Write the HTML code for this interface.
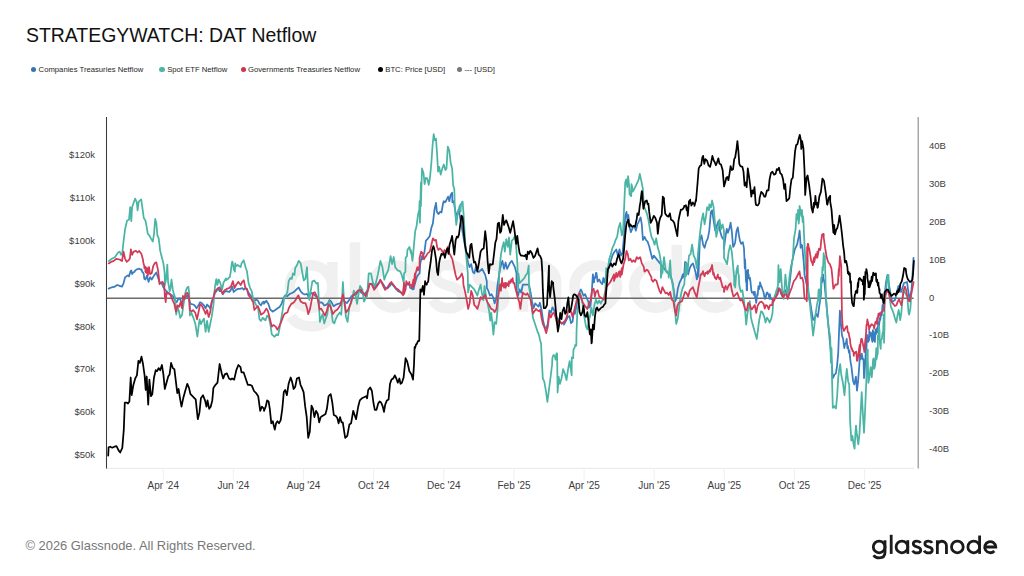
<!DOCTYPE html>
<html><head><meta charset="utf-8">
<style>
html,body{margin:0;padding:0;background:#fff;}
body{width:1024px;height:576px;overflow:hidden;position:relative;font-family:"Liberation Sans",sans-serif;}
.t{position:absolute;white-space:nowrap;}
#title{left:26.4px;top:23px;font-size:20.6px;color:#111;transform-origin:0 0;transform:scaleX(0.943);}
.lg{position:absolute;top:65px;font-size:7.7px;color:#262626;white-space:nowrap;line-height:10px;}
.dot{position:absolute;top:66.8px;width:5.4px;height:5.4px;border-radius:50%;}
.yl{position:absolute;font-size:9.5px;color:#3d3d3d;white-space:nowrap;line-height:12px;}
.xl{position:absolute;font-size:10px;color:#3d3d3d;white-space:nowrap;line-height:12px;}
#foot{left:25.5px;top:538.3px;font-size:12.9px;color:#777;}
</style></head><body>
<div id="title" class="t">STRATEGYWATCH: DAT Netflow</div>
<div class="dot" style="left:30.7px;background:#3374b3"></div><div class="lg" style="left:38.6px">Companies Treasuries Netflow</div>
<div class="dot" style="left:159.4px;background:#4db5a5"></div><div class="lg" style="left:167.2px">Spot ETF Netflow</div>
<div class="dot" style="left:240.9px;background:#c9354f"></div><div class="lg" style="left:248px">Governments Treasuries Netflow</div>
<div class="dot" style="left:377.5px;background:#000"></div><div class="lg" style="left:385.3px">BTC: Price [USD]</div>
<div class="dot" style="left:457px;background:#777"></div><div class="lg" style="left:464.5px">--- [USD]</div>
<div class="yl" style="right:929px;top:149.0px">$120k</div>
<div class="yl" style="right:929px;top:191.9px">$110k</div>
<div class="yl" style="right:929px;top:234.8px">$100k</div>
<div class="yl" style="right:929px;top:277.6px">$90k</div>
<div class="yl" style="right:929px;top:320.5px">$80k</div>
<div class="yl" style="right:929px;top:363.4px">$70k</div>
<div class="yl" style="right:929px;top:406.2px">$60k</div>
<div class="yl" style="right:929px;top:449.1px">$50k</div>
<div class="yl" style="left:929px;top:140.2px">40B</div>
<div class="yl" style="left:929px;top:178.0px">30B</div>
<div class="yl" style="left:929px;top:215.8px">20B</div>
<div class="yl" style="left:929px;top:253.7px">10B</div>
<div class="yl" style="left:929px;top:291.5px">0</div>
<div class="yl" style="left:929px;top:329.3px">-10B</div>
<div class="yl" style="left:929px;top:367.2px">-20B</div>
<div class="yl" style="left:929px;top:405.0px">-30B</div>
<div class="yl" style="left:929px;top:442.9px">-40B</div>
<div class="xl" style="left:123.3px;width:80px;text-align:center;top:479.8px">Apr '24</div>
<div class="xl" style="left:193.4px;width:80px;text-align:center;top:479.8px">Jun '24</div>
<div class="xl" style="left:263.6px;width:80px;text-align:center;top:479.8px">Aug '24</div>
<div class="xl" style="left:333.7px;width:80px;text-align:center;top:479.8px">Oct '24</div>
<div class="xl" style="left:403.8px;width:80px;text-align:center;top:479.8px">Dec '24</div>
<div class="xl" style="left:474.0px;width:80px;text-align:center;top:479.8px">Feb '25</div>
<div class="xl" style="left:544.1px;width:80px;text-align:center;top:479.8px">Apr '25</div>
<div class="xl" style="left:614.2px;width:80px;text-align:center;top:479.8px">Jun '25</div>
<div class="xl" style="left:684.3px;width:80px;text-align:center;top:479.8px">Aug '25</div>
<div class="xl" style="left:754.5px;width:80px;text-align:center;top:479.8px">Oct '25</div>
<div class="xl" style="left:824.6px;width:80px;text-align:center;top:479.8px">Dec '25</div>

<svg width="1024" height="576" style="position:absolute;left:0;top:0">
<g fill="none" stroke="#f0f0f0" stroke-width="2.9" transform="translate(-2889,-1704.4) scale(3.64)"><circle cx="879.15" cy="546.95" r="5.85"/><path d="M885,540.2 V552.3 Q885,557.9 879.2,557.9 Q875.3,557.9 873.6,555.2"/><path d="M891.2,534.8 V553.9"/><circle cx="901.95" cy="546.95" r="5.85"/><path d="M907.8,540.2 V553.9"/><path d="M920.6,542.9 C919.9,541.6 918.6,541.05 916.9,541.05 C914.6,541.05 913.3,542.2 913.3,543.7 C913.3,545.6 915.2,546.3 917,546.8 C919.1,547.3 920.7,548.1 920.7,550.2 C920.7,551.9 919.2,552.95 916.8,552.95 C914.8,552.95 913.4,552.1 912.6,550.6"/><path transform="translate(11.55,0)" d="M920.6,542.9 C919.9,541.6 918.6,541.05 916.9,541.05 C914.6,541.05 913.3,542.2 913.3,543.7 C913.3,545.6 915.2,546.3 917,546.8 C919.1,547.3 920.7,548.1 920.7,550.2 C920.7,551.9 919.2,552.95 916.8,552.95 C914.8,552.95 913.4,552.1 912.6,550.6"/><path d="M937.35,540.2 V553.9 M937.35,553.9 V545.8 A4.55,4.55 0 0 1 946.45,545.8 V553.9"/><circle cx="957.35" cy="546.95" r="5.85"/><circle cx="973.75" cy="546.95" r="5.85"/><path d="M979.6,535.5 V553.9"/><path d="M984.5,547 H995.8 A5.55,5.55 0 1 0 994.3,551"/></g>
<line x1="106" y1="468.3" x2="914" y2="468.3" stroke="#e8e8e8" stroke-width="1"/>
<line x1="163.3" y1="468" x2="163.3" y2="479.5" stroke="#f0f0f0" stroke-width="1"/><line x1="233.4" y1="468" x2="233.4" y2="479.5" stroke="#f0f0f0" stroke-width="1"/><line x1="303.6" y1="468" x2="303.6" y2="479.5" stroke="#f0f0f0" stroke-width="1"/><line x1="373.7" y1="468" x2="373.7" y2="479.5" stroke="#f0f0f0" stroke-width="1"/><line x1="443.8" y1="468" x2="443.8" y2="479.5" stroke="#f0f0f0" stroke-width="1"/><line x1="514.0" y1="468" x2="514.0" y2="479.5" stroke="#f0f0f0" stroke-width="1"/><line x1="584.1" y1="468" x2="584.1" y2="479.5" stroke="#f0f0f0" stroke-width="1"/><line x1="654.2" y1="468" x2="654.2" y2="479.5" stroke="#f0f0f0" stroke-width="1"/><line x1="724.3" y1="468" x2="724.3" y2="479.5" stroke="#f0f0f0" stroke-width="1"/><line x1="794.5" y1="468" x2="794.5" y2="479.5" stroke="#f0f0f0" stroke-width="1"/><line x1="864.6" y1="468" x2="864.6" y2="479.5" stroke="#f0f0f0" stroke-width="1"/>
<line x1="106.5" y1="298.3" x2="913.6" y2="298.3" stroke="#6a6a6a" stroke-width="1.4"/>
<g fill="none" stroke-width="1.75" stroke-linejoin="round" stroke-linecap="round">
<polyline stroke="#3a7cc0" points="108.7,288.6 111.8,287.3 114.9,286.6 117.3,285.0 119.6,285.8 122.0,286.6 123.5,283.4 125.1,277.2 125.9,276.7 127.4,275.6 129.0,275.2 129.0,276.4 130.6,270.9 131.3,270.5 132.1,274.1 132.9,272.8 134.5,271.7 135.2,270.5 136.8,269.4 138.4,268.9 139.2,268.6 140.7,269.7 141.5,269.4 142.3,272.0 143.1,272.5 143.8,274.4 144.3,278.8 145.4,279.5 147.0,275.6 148.5,281.9 150.1,277.2 151.7,279.5 154.0,275.6 156.3,272.5 157.9,277.2 159.5,281.9 161.8,283.4 163.4,287.3 164.9,289.7 166.5,291.2 168.1,292.8 169.6,293.6 172.8,295.9 175.1,300.6 176.7,302.2 178.2,299.1 179.8,298.3 181.3,302.2 182.9,303.8 184.5,299.1 186.0,296.7 187.6,295.2 189.2,300.6 190.7,303.8 193.1,304.5 194.6,305.3 196.5,308.4 198.5,305.3 200.1,302.2 201.7,303.0 204.0,305.3 205.6,308.4 207.1,304.5 208.7,306.1 210.2,308.4 211.8,302.2 213.4,298.3 214.9,292.8 216.5,291.2 218.1,288.1 219.6,291.2 221.2,290.5 222.8,294.4 224.3,292.0 226.7,291.2 229.0,292.0 230.6,290.5 232.1,286.6 233.7,292.0 235.2,290.5 237.6,288.9 239.9,288.9 242.3,288.1 243.8,289.7 245.4,288.1 247.0,289.7 248.5,292.8 250.9,295.9 253.2,299.1 254.8,300.6 256.3,299.8 257.9,300.6 259.5,303.8 261.0,305.3 262.6,302.2 264.0,301.6 264.0,303.8 266.3,300.8 268.4,303.9 270.2,309.4 272.6,311.7 274.9,310.2 277.3,308.6 279.6,307.0 281.5,303.9 283.5,298.4 285.1,295.3 287.4,296.1 289.8,293.8 292.1,293.0 294.5,291.4 296.8,289.1 298.7,287.5 300.7,291.4 303.1,293.8 304.9,294.5 307.0,293.8 308.5,296.9 310.1,294.5 311.7,293.0 313.2,293.8 315.6,296.1 317.9,297.7 319.5,303.1 321.0,302.3 322.6,303.1 324.2,305.5 326.5,304.7 328.1,303.1 329.6,300.0 331.2,301.6 333.5,306.2 335.9,304.7 338.2,303.9 340.6,303.1 342.9,298.4 344.5,301.6 346.8,303.1 349.2,300.0 351.5,296.1 353.8,295.3 356.2,294.5 358.5,290.6 360.9,292.2 363.2,294.5 365.6,293.0 367.9,289.8 369.5,284.4 371.8,283.6 374.2,288.3 376.5,285.2 378.8,282.8 380.4,280.5 382.8,283.6 385.1,287.5 387.4,288.3 389.8,285.9 391.3,283.6 393.7,285.9 396.0,289.1 398.4,291.4 400.7,292.2 403.1,293.8 404.0,284.7 405.4,286.7 407.0,282.8 407.1,284.7 409.3,284.4 410.2,287.8 411.7,288.3 412.6,289.4 413.7,289.1 414.2,286.2 415.6,281.2 417.1,276.6 418.7,274.2 419.6,273.4 420.2,264.1 421.8,256.2 422.4,259.4 424.0,253.1 424.3,253.1 425.9,240.6 427.4,239.1 428.7,237.5 429.8,235.9 431.3,228.1 432.9,223.4 434.5,209.4 435.6,204.7 436.0,202.8 436.8,211.7 438.4,214.1 440.2,211.7 441.5,212.5 443.1,203.1 443.8,201.2 444.9,202.3 445.4,202.0 447.0,198.9 448.1,196.6 449.3,201.2 450.6,195.0 452.1,192.7 452.4,202.3 453.7,201.2 455.6,212.5 457.1,215.6 458.7,209.4 466.5,254.7 468.1,262.5 469.6,267.2 471.2,264.1 472.8,271.9 474.3,273.4 475.9,267.2 477.4,271.9 479.0,271.9 480.6,270.3 482.1,268.8 483.7,271.9 485.2,275.0 486.8,281.2 486.8,287.8 488.4,290.9 489.9,295.6 491.5,294.1 493.1,297.2 494.6,303.4 496.2,298.8 497.4,286.2 499.3,273.4 500.9,265.6 502.4,260.9 504.0,268.8 505.6,262.5 507.1,268.8 508.7,265.6 510.2,262.5 511.8,260.9 513.4,264.1 514.9,267.2 516.5,273.4 516.5,289.4 518.1,295.6 519.6,289.4 521.2,292.5 522.8,284.7 529.0,284.7 530.6,292.5 532.1,301.9 533.7,308.1 535.2,303.4 536.8,305.0 538.4,306.6 539.9,302.7 541.5,309.7 543.1,320.6 544.6,326.9 546.2,328.4 547.8,323.8 549.3,310.5 550.9,312.8 552.4,307.3 554.0,309.7 555.6,315.9 557.9,319.1 560.2,322.2 564.0,323.8 564.0,324.7 566.3,320.0 567.9,316.9 569.5,316.1 571.0,323.1 572.6,321.6 573.7,312.2 574.9,313.8 576.5,305.9 578.1,297.3 579.6,291.9 580.9,289.5 582.0,291.9 583.5,295.8 585.1,294.2 586.7,298.1 588.2,301.2 589.3,307.5 590.6,305.2 591.8,291.9 592.9,274.4 592.9,274.7 594.0,282.5 594.5,277.5 595.2,277.8 596.0,272.8 596.5,273.1 597.6,281.7 599.2,279.4 600.7,282.5 602.3,284.1 603.4,277.8 604.6,282.5 606.2,276.2 612.4,255.6 614.0,252.5 616.3,249.4 617.9,255.6 619.5,249.4 621.0,255.6 622.6,252.5 624.2,233.8 625.2,216.6 626.5,211.9 627.3,219.7 628.4,215.0 629.3,225.9 630.9,232.2 632.8,227.5 634.3,225.9 635.9,230.6 637.4,224.4 639.0,221.2 640.6,217.3 641.8,224.4 642.9,240.0 644.5,236.9 646.0,240.0 647.6,241.6 649.2,246.2 650.7,252.5 652.3,258.8 653.8,255.6 667.9,273.1 670.2,274.7 672.6,282.5 674.2,293.4 675.2,301.2 676.5,298.1 677.8,288.8 679.6,282.5 681.2,279.4 682.8,274.4 682.8,277.8 684.3,273.1 685.1,261.9 686.7,263.4 688.2,274.4 689.8,268.1 691.3,265.0 692.9,263.4 694.5,268.1 696.0,274.4 696.8,279.4 697.6,277.5 698.4,252.5 698.4,276.2 699.9,240.0 701.5,235.3 703.1,244.7 704.6,247.8 706.2,241.6 707.8,238.4 709.3,230.6 710.9,211.9 712.1,210.3 713.7,221.2 715.2,230.6 716.8,225.9 718.4,221.2 719.9,230.6 721.8,236.9 724.0,240.0 724.0,248.4 725.6,235.9 726.8,228.9 727.9,232.8 729.5,228.1 730.6,222.7 731.8,231.2 733.1,246.9 734.2,245.3 735.2,242.2 736.5,231.2 737.8,227.3 738.8,234.4 739.9,240.6 741.2,243.8 742.8,242.2 744.0,248.4 744.8,268.3 745.1,259.4 745.9,279.4 746.0,281.6 746.2,271.9 746.7,290.2 747.1,290.3 747.4,270.3 747.5,274.5 748.1,269.8 748.2,276.2 748.7,274.5 748.7,278.1 749.3,277.8 749.8,279.7 749.9,277.7 750.6,282.5 750.6,283.1 751.4,290.9 752.0,292.6 752.6,292.5 753.4,291.9 753.8,294.8 754.9,291.7 755.1,298.2 755.7,298.8 756.2,303.0 757.3,294.1 757.6,295.4 758.5,286.2 759.0,289.2 760.0,285.0 760.0,282.3 761.2,286.2 761.7,287.0 762.8,290.2 763.5,292.0 763.9,294.1 764.8,298.9 765.1,298.8 765.9,296.8 766.3,294.1 766.9,292.6 767.4,292.5 768.3,294.7 768.6,294.8 769.4,298.9 769.8,294.1 770.4,296.8 771.0,298.8 771.4,298.9 773.0,300.0 776.0,296.0 779.0,288.0 782.0,296.0 785.0,290.0 788.0,296.0 790.0,280.0 792.0,262.0 794.8,249.4 797.1,244.7 798.7,236.9 799.6,230.6 800.2,238.4 800.6,247.8 801.4,244.7 802.2,245.5 803.8,262.8 804.5,274.5 809.9,299.7 811.5,310.6 813.1,320.0 814.6,318.4 816.2,313.8 817.8,316.9 819.3,305.9 820.9,295.0 821.7,276.6 822.1,282.5 823.2,274.7 823.2,278.1 824.3,281.2 831.2,356.2 832.8,378.1 834.3,375.0 835.9,373.4 837.1,365.6 838.2,353.1 839.9,310.6 840.9,323.1 842.0,335.6 843.1,338.8 844.3,348.1 845.2,343.4 845.9,343.4 846.7,338.8 847.4,348.1 847.9,345.8 849.0,352.8 849.5,350.5 849.9,356.2 850.6,362.2 851.5,367.2 853.1,381.2 854.3,384.4 855.9,376.6 857.0,390.6 858.1,381.2 859.3,365.6 859.9,354.4 860.4,359.1 860.6,359.4 861.5,357.5 861.7,354.7 861.8,353.6 862.8,359.4 863.5,359.1 864.0,378.1 865.2,364.1 866.2,338.8 866.3,353.1 867.0,334.8 867.8,337.2 868.2,341.9 869.0,340.3 869.3,330.9 870.2,335.6 870.9,332.5 871.3,337.2 872.4,341.9 872.9,330.2 874.0,334.1 874.1,340.3 874.9,341.9 875.6,329.4 876.0,334.1 877.1,327.8 877.2,332.5 878.4,322.5 878.4,326.2 878.7,327.8 879.5,321.6 879.9,317.8 880.2,320.0 881.5,311.6 881.8,315.3 882.5,305.0 883.1,308.4 884.5,296.0 886.0,282.0 887.5,275.0 889.0,285.0 892.0,302.0 895.0,300.0 898.4,286.0 901.0,292.0 904.0,283.0 907.0,282.0 909.5,300.0 911.5,290.0 913.3,262.0 913.5,257.8"/>
<polyline stroke="#4ab5a4" points="108.7,261.1 111.8,258.8 114.9,257.2 118.1,252.5 119.6,251.7 121.2,254.8 122.4,252.5 123.5,241.6 125.1,229.1 127.1,220.5 129.0,219.7 130.2,207.2 131.3,221.2 132.1,207.2 133.7,202.5 135.2,198.6 136.8,202.5 137.6,210.3 138.7,201.7 141.2,199.4 142.3,207.2 143.8,218.1 145.4,220.5 146.5,225.9 147.8,233.8 149.3,235.3 150.9,238.4 152.8,241.6 154.0,233.8 155.2,218.9 156.3,222.8 157.4,235.3 158.7,238.4 160.2,250.9 161.8,257.2 163.4,263.4 164.2,269.4 164.6,272.8 164.9,285.0 166.2,278.8 167.3,264.7 168.1,281.9 169.6,291.2 170.4,288.9 171.5,279.5 172.8,289.7 174.0,294.4 175.1,297.5 176.2,314.7 177.4,306.9 179.0,311.6 180.2,317.8 182.1,314.7 183.7,303.0 185.2,293.6 186.8,288.1 188.4,286.6 189.2,292.8 189.9,315.5 191.5,313.1 193.4,317.8 195.4,324.1 197.4,336.6 198.5,327.2 199.6,319.4 200.9,324.1 202.4,320.9 204.0,318.6 205.6,331.9 207.1,320.9 208.7,331.9 210.2,324.1 211.8,316.2 213.4,305.3 214.9,287.3 216.2,279.5 216.5,279.1 217.3,285.0 218.8,279.5 220.4,283.4 222.0,289.7 223.5,282.7 225.9,278.3 225.9,280.3 228.2,278.8 229.0,277.5 229.8,277.2 230.6,272.8 231.3,267.0 232.1,261.9 232.4,261.6 233.7,268.1 233.7,269.4 234.9,271.7 235.2,263.4 236.0,266.2 237.6,265.0 238.4,265.5 239.9,266.6 240.7,267.0 241.5,263.4 242.3,262.3 243.8,260.3 243.8,260.8 245.4,266.6 245.4,267.0 247.0,271.2 247.0,271.7 248.5,282.7 250.1,288.1 251.7,291.2 253.2,299.1 254.8,302.2 256.3,305.3 257.9,306.9 259.5,319.4 261.0,320.9 262.6,317.8 264.0,318.8 264.0,319.4 265.6,320.3 267.1,315.6 268.7,317.2 270.2,323.4 271.8,334.4 274.6,336.7 276.5,334.4 278.1,335.2 279.6,328.1 281.2,318.8 282.8,309.4 284.3,296.9 285.9,295.3 287.4,292.2 288.7,281.2 290.2,278.1 291.8,278.9 292.9,273.4 294.5,275.0 295.2,268.0 296.8,265.6 298.7,260.9 300.7,263.3 302.3,272.7 303.8,280.5 305.4,278.9 307.0,267.2 308.1,289.1 309.3,300.0 310.9,289.8 312.4,281.2 314.3,280.5 316.3,283.6 317.9,282.8 318.7,298.4 319.9,321.9 321.0,318.0 322.6,314.1 324.2,323.4 325.7,318.8 327.3,314.1 329.3,300.8 331.2,309.4 332.8,321.9 334.3,323.4 335.9,318.8 337.4,315.6 339.8,312.5 341.3,314.8 342.9,282.0 344.0,300.0 346.0,317.2 347.6,321.9 349.2,307.8 351.5,301.6 353.8,290.6 355.4,293.8 357.0,303.9 358.5,293.8 360.1,285.9 362.4,289.8 364.0,301.6 365.6,298.4 367.1,296.1 368.7,273.4 371.0,273.4 372.6,281.2 374.2,285.9 375.7,283.6 378.1,273.4 380.4,260.9 382.4,267.2 384.3,279.7 385.9,275.0 388.2,270.3 390.6,256.2 392.1,264.1 393.7,257.0 395.2,267.2 397.6,270.3 399.9,271.1 401.5,274.2 403.8,282.8 404.0,273.4 405.4,271.9 405.6,257.8 407.0,256.2 407.4,250.0 409.5,246.9 410.9,253.1 411.0,250.0 412.4,260.9 412.6,260.2 414.2,242.2 415.2,231.2 416.5,226.6 418.1,214.1 419.3,209.4 419.6,201.2 419.9,222.7 420.9,182.5 420.9,206.2 422.0,168.4 423.5,173.1 424.6,184.1 425.9,177.8 427.4,178.6 428.7,184.8 429.8,179.4 431.3,163.8 432.6,145.0 433.7,134.1 434.8,140.3 436.0,138.8 437.1,154.4 438.1,171.6 439.2,166.9 440.7,174.7 442.3,168.4 443.8,164.5 445.4,170.0 446.5,168.4 447.8,146.6 449.3,150.5 450.6,162.2 452.1,168.4 453.2,185.6 454.3,188.8 454.8,207.8 456.3,225.0 457.9,212.5 459.5,206.2 459.9,205.2 460.6,211.7 461.0,203.6 461.5,204.7 462.1,202.0 462.6,201.6 463.7,215.6 464.6,231.2 465.7,250.0 466.5,259.4 467.8,273.4 468.1,292.5 469.6,284.7 474.3,289.4 475.9,292.5 477.4,295.6 479.0,289.4 480.6,284.7 481.8,292.5 483.4,300.3 484.5,286.2 486.5,298.8 487.6,303.4 489.2,311.2 490.2,320.6 491.2,312.8 492.3,322.2 493.4,334.7 494.6,322.2 496.2,323.8 497.4,311.2 498.5,295.6 499.3,271.9 500.9,254.7 502.4,246.9 503.7,242.2 504.8,251.6 506.3,239.1 507.9,246.9 509.0,237.5 510.2,254.7 511.8,240.6 513.4,239.1 514.9,235.9 516.2,246.9 517.3,262.5 518.1,289.4 518.4,273.4 519.6,283.1 524.3,278.1 525.9,275.0 527.4,273.4 528.7,265.6 529.0,286.2 530.6,298.8 531.8,306.6 532.9,317.5 534.5,322.2 536.0,326.9 538.1,333.1 538.4,333.1 539.6,337.8 539.9,339.4 541.2,344.1 541.2,347.2 542.8,378.4 544.3,381.6 545.9,390.9 547.4,401.9 549.0,389.4 550.6,376.9 552.1,364.4 552.4,358.1 553.4,355.0 554.0,355.0 554.9,356.6 555.6,359.7 556.5,353.4 557.1,353.4 557.6,392.5 558.7,376.9 559.9,383.9 561.5,378.4 563.1,369.1 564.9,373.8 566.5,380.0 568.1,369.1 569.6,361.2 571.7,375.3 571.8,357.5 573.2,358.1 573.4,349.7 574.8,347.2 575.2,345.0 576.3,345.6 576.5,332.5 577.3,312.2 578.8,301.2 580.4,293.4 582.8,304.4 584.3,316.9 585.9,326.2 587.4,329.4 588.7,321.6 590.2,315.3 591.3,307.5 592.9,315.3 594.5,304.4 596.0,299.7 597.6,303.6 599.2,300.5 600.7,303.6 602.3,300.5 603.8,298.1 605.4,290.3 606.2,268.1 607.0,274.7 609.3,258.8 610.9,254.1 612.4,247.8 614.0,244.7 615.6,240.0 617.1,236.9 618.7,227.5 620.2,222.8 621.8,235.3 623.1,230.6 624.2,205.6 625.2,182.5 626.2,179.4 627.3,187.2 628.1,176.2 629.3,187.2 629.6,194.7 630.4,195.0 631.2,196.2 631.5,184.1 632.8,190.3 632.8,191.6 634.3,188.8 635.9,185.6 637.4,182.5 638.7,179.4 639.8,173.9 641.3,180.9 642.9,188.8 643.7,205.6 646.8,213.4 648.4,219.7 649.9,229.1 651.5,236.9 653.1,240.0 654.6,244.7 656.2,238.4 657.8,247.8 659.3,252.5 660.9,261.9 660.9,277.8 662.4,268.1 662.4,273.1 664.0,257.2 665.6,269.7 666.3,271.6 667.1,271.2 668.7,274.7 668.7,277.5 670.2,260.3 671.0,276.2 673.4,288.8 674.9,309.1 676.2,323.9 677.8,318.4 679.3,305.9 680.9,295.0 682.4,288.8 684.3,284.1 685.9,263.4 685.9,276.2 687.4,265.0 687.4,273.1 689.0,255.6 690.6,254.1 692.1,244.7 693.7,255.6 695.2,258.8 696.8,268.1 698.4,249.4 699.9,233.8 701.5,221.2 703.1,213.4 704.6,224.4 706.2,215.0 707.0,207.5 707.4,207.2 709.0,210.3 709.3,204.4 710.6,205.6 710.9,207.5 712.1,200.5 712.1,200.9 713.7,207.5 713.7,208.8 714.8,221.2 716.3,236.9 717.9,229.1 719.5,219.7 721.0,229.1 722.6,224.4 724.0,230.6 724.0,257.8 725.6,260.9 727.1,264.1 728.7,251.6 730.2,245.3 731.8,251.6 733.1,265.6 734.2,278.1 734.2,285.6 735.2,276.2 735.2,287.5 736.5,270.3 737.8,265.6 738.1,273.1 738.8,275.0 739.3,285.6 740.9,291.9 742.4,290.3 744.0,301.2 745.1,310.6 746.2,324.7 747.4,313.8 748.7,307.5 749.8,301.2 750.9,316.9 752.0,322.0 754.5,331.0 756.8,339.0 758.2,328.0 759.3,319.7 761.0,311.4 762.4,312.0 764.5,317.6 765.5,322.5 767.0,317.6 768.3,319.7 769.7,322.5 771.4,318.3 772.5,312.8 773.2,302.4 773.7,298.8 774.2,297.5 775.6,293.3 776.8,289.4 777.0,289.2 778.0,285.5 778.4,265.2 779.5,282.3 780.7,269.1 782.3,292.5 783.8,298.8 785.4,274.5 786.6,286.2 787.8,298.8 789.3,278.4 790.9,266.7 792.0,262.8 792.8,258.9 794.0,238.4 795.6,229.1 796.5,214.0 796.7,218.1 797.9,219.7 798.0,210.0 798.7,223.6 799.5,215.2 799.6,206.0 800.8,213.0 801.8,216.6 802.0,210.0 802.6,222.0 803.0,216.0 803.4,219.7 804.2,238.4 805.7,266.7 807.3,278.4 808.4,288.8 808.8,298.8 809.6,301.2 810.7,312.2 811.8,321.6 813.1,335.6 814.3,326.2 815.4,315.3 817.0,304.4 818.2,298.8 818.5,290.3 819.0,289.4 819.6,301.2 820.6,288.6 820.9,290.3 821.3,278.4 822.1,276.2 822.4,267.2 822.9,270.6 823.7,253.1 824.0,262.8 824.8,256.2 825.9,295.0 827.1,313.8 828.7,327.8 830.2,337.2 830.9,362.5 831.5,348.1 832.0,378.1 832.8,407.8 834.3,406.2 835.9,408.6 837.1,396.9 838.2,378.1 839.3,368.8 840.2,364.1 841.3,375.0 842.9,382.8 844.5,395.3 845.6,381.2 846.8,368.8 848.1,381.2 849.2,384.4 849.9,409.4 850.1,421.7 850.9,433.4 851.3,440.5 852.4,435.8 853.6,444.4 854.6,448.7 855.4,433.4 856.0,425.6 856.7,432.7 858.3,444.4 859.5,433.4 861.7,392.2 862.8,412.5 864.0,432.8 865.2,407.8 866.3,381.2 867.0,350.5 867.4,373.4 867.8,349.7 867.8,359.1 868.4,382.8 869.5,376.6 870.6,367.2 871.8,377.3 873.1,359.4 873.7,358.3 874.2,368.8 875.2,365.6 876.3,348.1 876.5,359.4 876.8,357.5 877.8,353.1 877.9,335.6 878.0,340.3 879.0,326.2 879.5,330.9 879.9,343.4 880.7,348.9 881.0,340.3 881.9,338.8 882.6,332.5 883.1,332.5 883.8,314.7 884.0,329.4 884.0,342.7 884.5,327.8 884.6,304.5 887.4,275.8 888.5,275.0 888.9,292.8 890.1,300.6 890.9,306.9 892.4,310.0 894.0,314.7 895.2,319.4 896.3,322.5 897.5,315.5 898.7,310.0 899.5,314.7 900.2,320.2 901.4,312.3 902.6,296.7 903.4,289.7 907.3,296.7 908.5,312.3 909.2,314.7 910.4,308.4 911.2,296.7"/>
<polyline stroke="#d23b57" points="108.7,263.4 111.0,261.9 113.4,261.1 116.5,258.8 119.6,259.5 122.0,261.1 123.5,251.7 125.1,258.8 126.7,261.9 128.7,260.3 129.8,258.8 130.9,249.4 132.1,254.8 133.7,251.7 136.0,250.9 137.6,252.5 139.2,250.9 141.5,254.1 143.1,260.3 143.1,261.6 144.3,266.2 144.3,268.1 145.4,266.6 145.4,271.7 146.2,272.8 147.0,267.8 147.8,275.6 149.0,267.0 150.1,274.1 151.7,273.3 153.2,266.2 154.8,263.1 156.3,262.3 157.9,269.4 158.7,275.6 159.5,284.2 161.0,282.7 162.6,281.9 164.2,285.0 164.9,296.7 165.7,302.2 166.5,292.8 168.1,293.6 169.6,293.6 171.2,296.7 172.8,300.6 174.3,303.8 175.9,311.6 177.4,305.3 179.0,306.9 180.6,302.2 182.1,308.4 182.9,295.9 184.5,299.1 186.0,293.6 187.6,292.8 189.2,299.1 189.9,310.0 191.5,311.6 193.1,310.0 195.4,313.1 197.0,319.4 198.5,312.3 200.1,304.5 201.7,305.3 204.0,310.0 205.6,313.9 207.1,310.0 208.7,317.0 210.2,312.3 211.8,301.4 213.4,297.5 214.9,291.2 217.3,288.9 219.6,287.3 221.2,291.2 222.8,293.6 224.3,290.5 226.7,288.9 229.0,288.1 231.3,285.8 232.9,281.1 234.5,288.1 236.0,285.0 238.4,281.9 240.7,285.0 242.3,281.9 243.8,280.3 245.4,288.1 247.0,288.9 248.5,295.2 250.9,298.3 253.2,302.2 254.3,310.0 256.3,307.7 257.9,306.1 259.5,310.0 261.0,314.7 263.4,313.1 264.0,312.5 266.3,308.6 267.9,310.9 269.9,318.8 271.8,326.6 273.4,325.0 275.7,326.6 277.3,329.7 278.8,327.3 281.2,321.9 283.5,315.6 285.1,313.3 287.4,312.5 289.0,307.8 291.3,303.9 292.9,303.1 294.5,301.6 296.0,299.2 298.4,295.3 300.7,301.6 303.1,303.1 305.4,303.1 307.0,307.8 308.2,314.1 310.1,308.6 311.7,300.0 313.2,293.0 314.8,292.2 316.3,295.3 317.9,300.0 319.5,309.4 321.0,308.6 322.6,310.9 324.9,315.6 326.5,311.7 328.4,304.7 330.4,306.2 332.8,314.1 335.1,310.9 337.4,309.4 340.6,304.7 342.9,294.5 344.5,301.6 346.0,312.5 348.4,309.4 350.7,303.1 353.1,295.3 355.4,293.8 357.8,290.6 360.9,289.8 363.2,293.0 365.6,296.1 367.9,290.6 369.5,283.6 371.8,284.4 374.2,289.8 376.5,286.7 378.8,283.6 380.4,279.7 382.8,285.2 385.1,289.8 387.4,287.5 389.8,283.6 391.3,282.0 393.7,285.2 396.0,288.3 398.4,289.8 400.7,292.2 403.1,295.3 404.0,282.8 404.0,294.1 405.4,289.8 405.6,289.4 406.3,281.2 407.0,283.6 407.1,283.1 408.7,284.4 409.3,282.0 409.5,284.7 411.7,285.2 411.8,287.8 413.4,279.7 413.4,287.0 413.7,285.2 414.9,273.4 414.9,283.1 415.6,273.4 417.3,267.2 417.9,270.3 419.5,266.4 419.6,257.8 421.0,252.3 421.2,251.6 422.6,253.9 422.8,253.1 424.0,259.4 424.3,258.6 425.9,256.2 427.8,253.1 429.8,251.6 431.3,245.3 432.9,238.3 434.5,240.6 436.0,239.8 437.1,246.9 438.4,250.0 439.9,248.4 441.5,250.0 443.1,253.1 444.6,250.0 446.2,251.6 447.8,246.9 449.3,253.1 450.9,256.2 452.4,259.4 454.0,267.2 455.6,275.0 457.1,279.7 458.7,278.1 460.2,276.6 461.8,273.4 463.1,278.1 463.4,284.7 464.9,290.9 466.5,298.8 468.1,308.9 469.6,303.4 471.2,290.9 472.8,295.6 474.3,305.0 475.9,306.6 477.4,308.9 479.0,303.4 480.6,297.2 482.1,298.8 483.7,297.2 485.2,294.8 486.5,300.3 488.1,303.4 489.6,305.8 491.2,308.9 493.1,309.7 494.6,312.0 496.5,308.9 497.8,297.2 499.3,289.4 500.1,284.4 500.9,290.9 502.1,278.1 502.4,286.2 504.0,283.1 504.0,287.5 505.6,282.8 505.6,287.8 507.1,283.1 507.1,284.4 508.7,286.2 509.0,281.2 510.2,283.1 511.0,279.7 511.8,281.6 512.6,278.1 513.4,283.1 514.2,282.8 514.9,286.2 516.5,292.5 518.1,298.8 519.3,301.9 520.4,308.9 521.5,300.3 522.8,292.5 524.3,294.1 525.9,294.8 527.4,293.3 529.0,296.4 530.6,299.5 531.8,306.6 532.9,313.6 534.5,311.2 536.0,308.9 537.6,310.5 539.2,311.2 540.2,309.7 541.5,317.5 542.8,323.8 544.3,326.9 546.2,333.1 547.8,326.9 549.3,313.6 550.9,317.5 552.4,313.6 554.0,312.8 555.6,317.5 557.1,323.8 558.7,320.6 560.2,322.2 561.8,323.8 564.0,321.6 564.0,322.2 566.3,318.4 567.9,312.2 569.5,309.1 571.0,311.4 572.6,316.9 573.7,312.2 574.9,307.5 576.5,301.2 578.1,295.0 579.6,293.4 581.2,298.1 582.8,302.8 585.1,305.9 587.4,309.1 589.0,303.6 590.6,300.5 592.1,290.3 593.7,288.8 594.9,296.6 596.0,291.9 597.6,290.3 599.2,296.6 601.5,298.1 603.8,299.7 604.9,296.6 606.2,287.2 608.1,284.8 610.1,282.5 612.4,277.8 614.0,274.4 614.0,280.9 615.6,276.2 616.3,272.8 617.1,277.0 617.9,275.9 618.7,272.3 619.5,271.2 620.2,277.0 621.8,268.1 621.8,274.7 623.4,265.0 625.2,258.8 626.5,250.9 627.8,254.1 628.8,260.3 630.4,258.8 632.0,261.9 633.5,260.3 635.1,261.9 636.7,257.2 638.2,258.8 640.2,257.2 641.8,263.4 643.7,266.6 644.5,271.6 645.2,271.2 646.8,269.7 648.4,271.2 649.2,273.1 649.9,274.4 651.5,277.5 651.5,279.4 653.1,281.7 654.6,279.4 656.5,280.9 657.8,285.6 659.3,290.3 660.9,293.4 662.4,287.2 664.0,290.3 665.6,293.4 667.1,292.7 668.7,295.0 670.2,291.9 671.8,299.7 673.4,301.2 674.9,310.6 676.2,315.3 677.3,305.9 678.8,302.8 680.4,302.0 682.0,301.2 683.5,296.6 685.1,291.9 686.7,293.4 688.2,296.6 689.8,290.3 691.3,288.8 692.9,287.2 694.5,291.9 696.8,297.3 698.4,287.2 699.9,279.4 700.7,274.4 701.5,274.7 703.1,271.2 703.1,273.1 704.6,276.2 705.4,272.8 706.2,273.1 707.8,271.2 707.8,273.9 710.1,269.7 710.1,271.6 712.1,265.0 713.2,274.7 713.7,272.8 714.8,277.8 715.6,277.5 716.3,279.4 717.9,274.4 717.9,276.2 719.5,279.4 720.2,277.5 721.0,280.9 722.6,287.2 724.0,287.5 724.0,291.9 724.0,291.9 725.6,285.9 725.6,287.2 727.1,287.5 727.1,289.5 728.7,285.2 728.7,285.6 730.2,283.6 730.6,283.3 731.8,290.3 733.4,296.6 735.2,295.0 737.3,292.7 738.8,297.3 740.4,300.5 742.0,299.7 743.5,303.6 745.1,309.1 746.7,310.6 748.2,302.8 749.8,304.4 751.3,309.1 752.0,309.3 754.8,305.1 756.2,312.8 757.6,305.8 759.6,302.4 761.7,301.7 763.5,303.8 764.8,308.6 765.9,305.1 767.3,305.8 768.7,309.3 770.0,305.1 772.1,305.1 772.9,298.8 773.5,301.7 775.6,297.5 776.8,295.6 777.7,294.0 778.8,288.6 779.8,289.2 780.3,289.4 781.5,294.1 781.9,293.3 783.1,297.2 784.6,294.8 786.2,294.1 787.8,298.8 790.1,291.7 791.7,287.8 793.2,283.1 794.0,280.8 795.6,279.2 797.9,274.5 799.5,271.4 800.6,278.4 802.2,277.7 803.4,282.3 804.5,298.8 806.1,298.8 806.8,301.2 806.9,278.4 807.1,246.9 807.6,285.6 807.7,243.9 808.1,243.8 808.8,247.8 809.2,248.4 810.2,254.7 810.4,255.6 811.2,261.2 811.5,260.9 812.8,264.8 812.8,265.2 813.8,258.6 814.3,257.2 814.3,262.0 815.4,256.2 815.9,254.1 815.9,257.3 817.0,257.8 817.4,251.7 817.4,257.3 818.5,251.6 819.0,248.6 820.1,250.0 820.6,247.8 821.2,240.6 822.1,234.5 822.4,234.4 823.7,233.8 823.7,237.5 825.2,248.4 826.8,257.8 828.4,262.5 829.9,264.1 831.5,268.8 832.6,279.4 832.6,281.2 833.4,288.8 834.2,287.5 834.9,285.6 835.7,284.4 836.5,284.8 837.3,284.4 837.8,284.1 838.8,268.8 838.8,276.2 839.9,256.2 841.2,265.6 842.0,316.9 842.8,327.8 844.0,330.9 845.2,328.6 845.6,327.8 846.7,326.2 847.1,326.2 847.9,332.5 848.7,332.5 849.1,335.6 850.2,340.3 850.2,342.7 851.4,348.9 851.8,348.1 852.6,351.2 853.4,351.2 853.8,355.9 853.8,354.7 854.9,352.8 855.7,352.0 856.2,351.6 856.5,354.4 856.9,360.6 857.4,360.9 858.5,353.6 858.5,353.1 859.6,345.0 859.6,356.2 860.4,345.0 861.2,338.8 861.8,338.8 862.8,343.4 863.1,345.0 864.3,351.2 864.3,352.0 865.4,338.8 865.5,341.9 866.5,324.7 866.7,326.2 867.4,319.4 867.4,320.0 868.6,324.8 869.0,327.0 869.0,329.4 870.2,326.4 870.6,325.5 870.6,326.2 871.7,324.1 872.1,324.7 872.1,324.7 873.7,325.6 873.7,326.2 874.1,328.6 875.2,323.1 875.6,321.7 875.6,323.1 876.8,323.1 877.2,317.8 877.2,323.9 878.4,313.9 878.4,316.9 879.5,313.1 879.9,315.3 880.7,313.9 881.5,312.2 882.3,311.6 883.8,310.0 884.0,310.6 884.6,300.6 885.4,295.2 886.6,292.0 887.8,290.5 888.9,293.6 890.1,298.3 891.7,302.2 893.2,303.8 894.8,306.1 896.3,305.3 897.9,301.4 899.1,299.1 900.2,302.2 901.4,305.3 902.6,298.3 903.8,289.7 904.9,286.6 906.1,289.7 907.3,296.7 908.5,300.6 909.6,301.4 910.0,300.0 911.5,293.0 913.6,282.0"/>
<polyline stroke="#000" stroke-width="1.75" points="108.2,455.6 108.6,447.3 110.2,446.7 112.3,447.7 114.4,446.7 116.5,446.2 118.6,450.4 120.2,452.5 122.3,447.9 123.8,429.6 124.8,402.5 126.5,402.5 128.0,403.5 129.4,401.5 130.7,377.5 131.7,395.2 133.2,385.8 135.2,378.5 136.9,375.4 138.4,360.8 139.8,362.9 141.5,356.7 143.0,364.0 144.6,375.4 145.7,390.0 146.7,376.5 148.2,404.6 149.4,379.6 150.9,396.2 152.3,394.2 154.0,377.5 155.7,370.2 157.1,371.2 158.6,368.1 160.2,370.2 161.9,365.0 163.4,374.4 164.8,389.0 166.5,382.7 168.2,376.5 169.6,374.4 171.1,362.9 172.8,368.1 174.4,369.2 175.9,381.7 177.3,393.1 178.6,389.0 180.0,398.3 181.5,406.7 183.2,398.3 185.2,391.0 187.3,383.8 189.0,387.9 190.5,394.2 192.5,396.2 194.6,398.3 195.7,399.4 197.8,419.2 199.4,412.9 200.9,398.3 203.0,395.2 205.0,400.4 206.5,406.7 207.5,400.4 209.2,408.8 210.7,406.7 212.3,400.4 213.4,387.9 215.5,384.8 217.5,382.7 219.6,364.0 221.7,373.3 223.2,378.5 224.8,374.4 226.9,373.3 229.0,378.5 230.7,379.6 232.1,378.5 234.2,379.6 236.3,370.2 238.4,365.0 240.5,367.1 241.5,372.3 243.6,372.3 245.7,378.5 247.8,384.8 249.8,384.8 251.9,385.8 254.0,391.0 256.1,393.1 258.2,396.2 260.2,410.8 261.9,406.7 264.0,408.8 264.0,410.8 265.7,406.7 267.1,400.4 268.6,401.5 269.8,408.8 271.3,423.3 272.8,421.2 274.0,426.5 274.8,429.6 276.1,423.3 277.5,421.2 279.0,423.3 280.7,420.2 282.3,408.8 283.8,392.1 285.2,390.0 286.9,395.2 288.6,383.8 290.7,377.5 292.1,381.7 293.6,389.0 295.2,386.9 296.9,378.5 299.0,377.5 300.5,384.8 301.9,387.9 303.6,392.1 305.2,406.7 306.7,417.1 308.2,437.9 309.8,431.7 311.5,405.6 313.0,408.8 314.4,417.1 316.1,410.8 317.8,414.0 319.2,422.3 320.7,417.1 322.3,416.0 324.0,415.0 325.5,414.0 326.9,408.8 328.6,396.2 330.7,394.2 332.3,402.5 333.8,415.0 335.9,416.0 337.3,418.1 338.6,423.3 340.0,417.1 341.5,422.3 342.8,422.3 344.2,431.7 345.2,437.9 347.3,435.8 349.4,424.4 351.1,423.3 353.2,410.8 354.6,415.0 356.1,419.2 358.2,406.7 359.8,400.4 361.9,398.3 364.0,397.3 366.1,396.2 367.1,398.3 368.2,390.0 370.2,387.5 371.9,391.0 373.4,402.5 374.8,409.8 376.5,409.8 378.2,403.5 379.6,401.5 381.1,402.5 382.8,406.7 384.0,411.9 385.2,404.6 386.9,400.4 388.6,399.4 390.0,383.8 391.5,379.6 393.2,378.5 394.8,375.4 396.3,378.5 397.8,382.7 399.4,378.5 400.5,383.8 401.9,382.7 403.6,377.5 405.6,358.1 405.7,358.8 407.1,361.2 407.8,364.0 409.4,371.2 411.5,374.4 413.0,379.6 414.0,365.0 414.6,347.2 415.0,348.3 416.2,344.1 416.7,344.2 418.1,340.9 419.2,341.0 419.3,339.4 420.4,289.4 421.5,291.7 422.8,285.9 422.8,286.2 424.0,294.8 425.1,281.2 425.1,283.1 426.7,284.7 427.1,282.8 428.2,281.6 429.0,273.4 430.6,262.5 432.1,250.0 433.4,246.1 434.5,250.0 436.0,259.4 437.1,271.9 438.1,275.0 439.2,262.5 440.2,257.8 441.5,253.9 442.8,254.7 443.8,253.1 444.9,257.8 446.2,251.6 447.4,248.4 448.5,253.9 449.6,244.5 450.9,240.6 452.1,235.9 453.2,245.3 454.3,254.7 455.6,240.6 456.8,236.7 457.9,237.5 459.0,234.4 460.2,225.0 461.5,215.6 462.6,217.2 463.7,231.2 464.9,243.8 466.2,251.6 467.8,254.7 469.3,257.8 470.4,245.3 471.5,243.8 472.8,254.7 474.0,262.5 475.1,261.7 476.2,265.6 477.4,271.1 479.0,262.5 480.6,251.6 482.1,249.2 483.7,248.4 485.2,231.2 486.5,242.2 487.6,260.9 488.8,273.4 489.9,264.1 491.2,264.8 492.8,264.1 494.3,251.6 495.4,242.2 496.5,239.1 497.8,223.4 499.0,222.7 500.1,232.8 501.2,231.2 502.8,214.8 504.0,225.0 505.2,221.9 506.3,220.3 507.4,223.4 508.7,227.3 510.2,232.8 511.8,226.6 513.1,221.1 514.2,228.1 515.2,235.9 516.2,243.8 517.3,235.9 518.4,245.3 519.6,253.1 520.9,255.5 522.4,255.5 524.3,256.2 525.6,254.7 526.7,259.4 527.8,251.6 529.0,253.9 530.2,250.8 531.8,253.1 533.4,257.8 534.9,256.2 536.5,251.6 537.6,248.4 538.7,254.7 540.2,256.2 541.5,259.4 542.3,271.9 542.8,289.4 543.8,308.1 545.4,308.1 547.0,305.0 547.8,289.4 549.0,265.6 549.0,284.7 550.1,297.2 551.7,281.2 551.7,281.6 553.2,282.8 553.2,286.2 554.8,298.8 555.9,311.2 557.1,323.8 557.9,331.6 559.0,325.3 560.2,312.8 561.5,319.1 562.6,311.2 564.0,307.5 564.0,308.1 565.2,313.8 566.3,312.2 567.4,302.8 568.4,297.3 569.5,312.2 571.0,309.1 572.1,302.8 573.1,295.8 574.2,294.2 575.7,295.0 577.3,297.3 578.4,299.7 579.6,312.2 580.9,315.3 582.4,312.2 583.5,305.9 584.6,315.3 585.9,316.9 587.4,312.2 588.7,323.1 589.8,334.1 590.4,334.7 590.9,329.4 591.5,343.3 591.8,342.7 592.9,324.7 594.0,329.4 594.9,316.9 596.0,309.1 597.1,307.5 598.4,310.6 599.9,309.1 601.5,307.5 603.1,306.7 604.3,304.4 605.4,303.6 606.2,291.9 607.0,282.5 607.8,269.7 609.3,266.6 610.9,263.4 612.4,266.6 614.0,263.4 615.6,265.0 617.1,258.8 618.7,254.1 620.2,260.3 621.5,263.4 623.1,258.8 624.2,247.8 625.2,235.3 626.2,225.9 627.3,221.2 628.4,219.7 629.3,226.7 630.4,224.4 632.0,226.7 633.5,225.9 635.1,226.7 636.7,218.9 637.4,213.4 638.7,215.0 639.8,205.6 640.6,201.2 640.9,197.8 641.8,191.1 642.1,191.6 642.9,202.8 643.4,208.8 644.5,204.1 645.2,201.2 646.0,200.9 646.8,200.5 647.6,204.1 648.4,203.6 649.2,211.9 650.7,222.8 652.3,219.7 653.8,215.8 655.4,218.1 657.0,222.8 657.8,233.8 659.0,222.8 660.1,218.1 661.7,215.0 662.8,196.6 662.8,197.0 664.0,198.1 664.0,200.9 665.2,213.4 666.8,215.8 668.4,216.6 669.9,213.4 671.0,219.7 672.6,220.5 674.2,222.8 675.7,229.1 677.3,236.1 678.4,221.2 679.6,215.0 680.9,209.5 682.4,209.5 682.8,209.1 684.0,207.2 684.3,205.9 685.6,205.6 685.9,205.2 686.7,210.3 687.4,207.5 687.8,215.8 689.0,201.2 689.0,204.1 690.2,199.7 690.2,200.9 691.3,204.4 691.3,205.6 692.9,202.5 692.9,202.8 694.5,204.8 694.5,205.9 696.0,199.4 696.0,201.2 697.6,182.5 698.7,168.4 699.9,166.1 701.2,165.3 702.3,157.5 703.1,155.9 704.3,163.8 705.4,159.1 707.0,160.6 708.5,165.3 710.1,166.9 711.2,162.2 712.4,155.9 713.7,160.6 714.8,162.2 715.9,165.3 717.1,162.2 718.4,158.3 719.5,163.8 721.0,164.5 722.6,170.0 724.0,185.6 724.0,186.4 725.2,182.5 726.3,177.8 727.4,177.0 728.4,180.2 729.5,173.9 730.6,166.1 731.8,170.0 733.1,169.2 734.2,159.1 735.2,157.5 736.5,148.9 737.4,141.1 738.4,151.2 739.3,163.8 740.4,166.1 742.4,166.9 743.5,171.6 744.6,185.6 745.6,182.5 746.7,187.2 747.8,168.4 749.0,176.2 750.2,185.6 751.3,196.6 752.4,190.3 753.4,193.4 754.5,187.2 755.6,202.8 756.0,204.7 756.8,205.2 757.6,205.5 758.4,204.4 759.2,203.1 759.6,198.1 761.2,191.9 762.8,193.4 764.3,196.6 765.4,196.6 767.0,190.3 768.5,190.3 769.6,179.4 770.9,173.1 772.4,171.6 774.0,174.7 775.6,173.9 776.8,169.2 777.9,170.0 779.0,167.7 780.2,173.1 781.8,174.7 783.1,179.4 784.2,188.8 785.2,184.1 786.5,201.2 788.1,199.7 789.3,198.1 790.4,187.2 791.5,179.4 792.8,177.8 794.0,163.8 795.1,151.2 796.2,145.0 797.4,144.2 798.7,138.8 799.8,134.8 800.9,140.3 801.3,148.9 802.1,141.1 803.4,148.1 804.5,170.0 805.2,195.0 806.5,177.8 807.6,175.5 809.2,185.6 810.7,198.1 811.5,207.8 812.8,212.5 813.8,202.8 813.8,207.8 814.9,203.1 815.4,195.8 816.2,204.7 817.0,202.8 817.4,207.8 817.8,207.5 818.5,203.1 819.3,196.6 820.9,191.9 822.4,178.6 824.0,180.9 825.6,191.9 827.1,204.4 827.4,204.7 828.7,198.1 830.2,195.8 830.2,201.6 831.5,209.4 832.6,223.4 833.4,232.8 834.2,225.0 834.9,234.4 836.2,229.7 837.3,228.1 838.4,223.4 839.6,215.6 840.9,225.0 842.0,234.4 843.1,245.3 844.0,251.6 844.3,254.7 844.8,261.7 845.1,262.5 846.0,260.9 846.2,260.9 847.1,265.6 847.4,267.2 847.9,273.4 848.7,271.9 848.7,273.4 849.0,274.7 849.8,275.0 849.9,273.4 850.2,282.5 850.6,281.2 850.9,281.2 851.3,293.4 851.4,294.5 851.8,299.1 852.1,302.8 853.0,305.3 853.4,305.9 853.8,306.1 854.5,298.1 854.9,294.4 855.6,293.4 855.7,291.4 856.1,291.2 856.5,290.6 856.8,290.3 857.3,292.8 857.7,284.4 858.1,282.5 858.1,287.3 858.7,279.7 858.8,278.9 859.6,278.1 859.6,279.4 859.9,278.1 860.8,279.7 861.5,279.7 861.5,280.9 862.8,281.2 862.8,284.4 863.1,284.1 863.8,276.6 863.8,299.7 863.9,287.5 863.9,299.5 864.7,289.7 864.7,294.5 864.9,288.8 865.4,271.9 865.5,273.4 866.2,273.1 866.3,269.1 866.5,269.5 867.4,275.0 867.4,276.2 867.4,278.1 868.5,284.4 868.5,287.2 868.6,285.2 869.4,287.3 869.8,286.7 870.1,281.2 870.1,285.6 871.0,282.8 871.7,276.6 871.7,279.4 872.1,281.2 873.2,273.1 873.2,273.4 873.3,272.7 874.5,275.0 874.8,273.9 874.8,275.0 875.6,273.4 875.9,273.4 876.3,280.9 876.8,282.0 877.1,279.7 877.9,285.6 878.4,282.8 878.4,284.4 879.5,291.9 879.5,289.1 879.5,292.8 880.7,294.5 880.7,297.5 881.0,296.6 881.9,294.4 882.1,298.1 883.1,300.6 883.4,302.8 883.8,303.0 884.0,301.2 884.6,292.2 884.6,292.8 885.8,290.6 885.8,290.9 887.0,289.5 887.4,289.7 888.1,289.8 888.9,292.0 889.3,292.2 890.1,293.6 891.3,295.9 892.4,295.2 894.0,293.6 894.0,293.8 895.6,294.5 895.6,295.2 897.1,291.2 897.1,293.8 898.7,289.1 898.7,292.0 899.9,288.1 900.2,284.4 901.8,281.2 903.0,275.8 904.2,268.0 905.7,268.8 906.5,275.0 907.7,278.9 908.8,280.5 910.0,282.0 911.2,281.2 912.4,279.7 913.1,273.4 913.9,260.9"/>
</g>
<line x1="106.5" y1="117" x2="106.5" y2="468.5" stroke="#3a3a3a" stroke-width="1.05"/>
<line x1="918.2" y1="117" x2="918.2" y2="468.5" stroke="#888" stroke-width="1.1"/>
<g fill="none" stroke="#1b1b1b" stroke-width="2.8"><circle cx="879.15" cy="546.95" r="5.85"/><path d="M885,540.2 V552.3 Q885,557.9 879.2,557.9 Q875.3,557.9 873.6,555.2"/><path d="M891.2,534.8 V553.9"/><circle cx="901.95" cy="546.95" r="5.85"/><path d="M907.8,540.2 V553.9"/><path d="M920.6,542.9 C919.9,541.6 918.6,541.05 916.9,541.05 C914.6,541.05 913.3,542.2 913.3,543.7 C913.3,545.6 915.2,546.3 917,546.8 C919.1,547.3 920.7,548.1 920.7,550.2 C920.7,551.9 919.2,552.95 916.8,552.95 C914.8,552.95 913.4,552.1 912.6,550.6"/><path transform="translate(11.55,0)" d="M920.6,542.9 C919.9,541.6 918.6,541.05 916.9,541.05 C914.6,541.05 913.3,542.2 913.3,543.7 C913.3,545.6 915.2,546.3 917,546.8 C919.1,547.3 920.7,548.1 920.7,550.2 C920.7,551.9 919.2,552.95 916.8,552.95 C914.8,552.95 913.4,552.1 912.6,550.6"/><path d="M937.35,540.2 V553.9 M937.35,553.9 V545.8 A4.55,4.55 0 0 1 946.45,545.8 V553.9"/><circle cx="957.35" cy="546.95" r="5.85"/><circle cx="973.75" cy="546.95" r="5.85"/><path d="M979.6,535.5 V553.9"/><path d="M984.5,547 H995.8 A5.55,5.55 0 1 0 994.3,551"/></g>
</svg>
<div id="foot" class="t">© 2026 Glassnode. All Rights Reserved.</div>
</body></html>
